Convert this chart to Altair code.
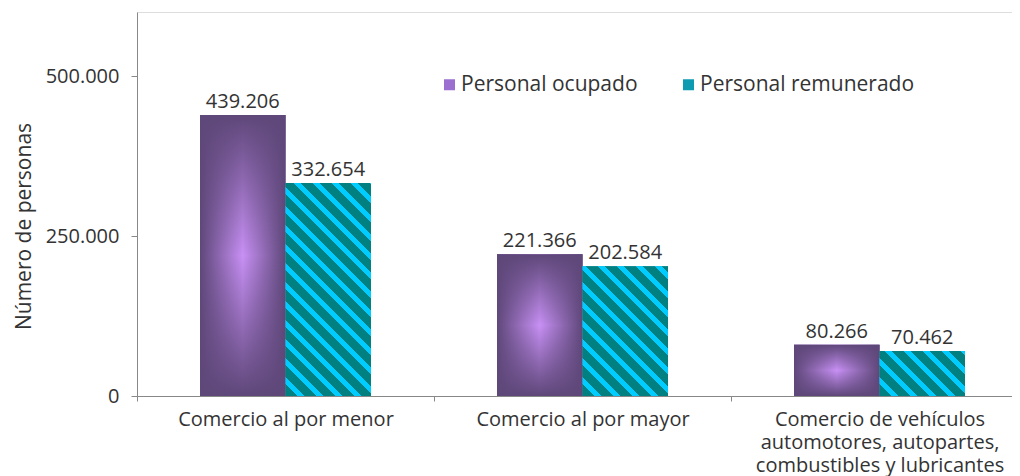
import altair as alt
import pandas as pd

# ---------------- data ----------------
categorias = [
    "Comercio al por menor",
    "Comercio al por mayor",
    "Comercio de vehículos\nautomotores, autopartes,\ncombustibles y lubricantes",
]
series = ["Personal ocupado", "Personal remunerado"]
ocupado = [439206, 221366, 80266]
remunerado = [332654, 202584, 70462]
y_ticks = [0, 250000, 500000]
y_max = 600000

rows = []
for c, a, b in zip(categorias, ocupado, remunerado):
    rows.append({"categoria": c, "serie": series[0], "valor": a})
    rows.append({"categoria": c, "serie": series[1], "valor": b})
df = pd.DataFrame(rows)

# ---------------- layout / style ----------------
PLOT_W, PLOT_H = 875, 384
BAND = 297
OFF_PAD = 0.737
BAR_W = BAND / (2 + 2 * OFF_PAD)
FONT = "Open Sans"
TXT = "#333333"

DARK = "#5E4779"
LIGHT = "#C890F5"
TEAL = "#008080"
CYAN = "#00CCFF"

purple_h = alt.LinearGradient(
    gradient="linear", x1=0, y1=0, x2=1, y2=0,
    stops=[alt.GradientStop(offset=0, color=DARK),
           alt.GradientStop(offset=0.5, color=LIGHT),
           alt.GradientStop(offset=1, color=DARK)])
purple_v = alt.LinearGradient(
    gradient="linear", x1=0, y1=0, x2=0, y2=1,
    stops=[alt.GradientStop(offset=0, color="rgba(94,71,121,1)"),
           alt.GradientStop(offset=0.5, color="rgba(94,71,121,0)"),
           alt.GradientStop(offset=1, color="rgba(94,71,121,1)")])


def stripe_gradient(w, h, period=19.0, frac=0.35):
    k = (w + h) * w / (w * w + h * h)
    p = period / (w + h)
    stops = []
    t = 0.0
    while t < 1:
        a = min(t + p * (1 - frac), 1)
        b = min(t + p, 1)
        stops.append((t, TEAL))
        stops.append((a, TEAL))
        if a < 1:
            stops.append((a, CYAN))
            stops.append((b, CYAN))
        t += p
    return alt.LinearGradient(
        gradient="linear", x1=0, y1=1, x2=k, y2=1 - k * h / w,
        stops=[alt.GradientStop(offset=round(o, 5), color=c) for o, c in stops])


x_enc = alt.X(
    "categoria:N", sort=categorias,
    scale=alt.Scale(domain=categorias, range=[0, 3 * BAND], paddingInner=0, paddingOuter=0),
    axis=alt.Axis(title=None, labelExpr="split(datum.label, '\\n')", tickBand="extent",
                  labelAngle=0, labelFont=FONT, labelFontSize=20, labelLineHeight=23,
                  labelPadding=8, tickSize=5, labelLimit=0, labelColor=TXT),
)
xo_enc = alt.XOffset("serie:N", sort=series,
                     scale=alt.Scale(domain=series, paddingOuter=OFF_PAD, paddingInner=0))
y_enc = alt.Y(
    "valor:Q",
    scale=alt.Scale(domain=[0, y_max], nice=False),
    axis=alt.Axis(values=y_ticks, format=",.0f", title="Número de personas",
                  titleFont=FONT, titleFontSize=21, titleFontWeight="normal",
                  titlePadding=11, titleY=214, titleColor=TXT,
                  labelFont=FONT, labelFontSize=20, labelPadding=12, labelColor=TXT,
                  tickSize=6, grid=False),
)

base = alt.Chart(df)

legend_bars = base.mark_bar().encode(
    x=x_enc, xOffset=xo_enc, y=y_enc,
    color=alt.Color(
        "serie:N", sort=series,
        scale=alt.Scale(domain=series, range=["#9A6FD0", "#0E9AB0"]),
        legend=alt.Legend(orient="none", legendX=302, legendY=62, direction="horizontal",
                          title=None, symbolType="square", symbolSize=121, padding=0,
                          symbolStrokeWidth=0, labelFontSize=21, labelFont=FONT,
                          labelColor=TXT, labelOffset=1, columnPadding=40, labelLimit=0),
    ),
)

occ = base.transform_filter(alt.FieldEqualPredicate(field="serie", equal=series[0]))
purple1 = occ.mark_bar(color=purple_h).encode(x=x_enc, xOffset=xo_enc, y=y_enc)
purple2 = occ.mark_bar(color=purple_v).encode(x=x_enc, xOffset=xo_enc, y=y_enc)

layers = [legend_bars, purple1, purple2]
for c, v in zip(categorias, remunerado):
    h = v / y_max * PLOT_H
    layers.append(
        base.transform_filter(alt.FieldEqualPredicate(field="serie", equal=series[1]))
        .transform_filter(alt.FieldEqualPredicate(field="categoria", equal=c))
        .mark_bar(color=stripe_gradient(BAR_W, h))
        .encode(x=x_enc, xOffset=xo_enc, y=y_enc)
    )

labels = base.mark_text(fontSize=20, font=FONT, color=TXT, baseline="alphabetic", dy=-7).encode(
    x=x_enc, xOffset=xo_enc, y=y_enc, text=alt.Text("valor:Q", format=",.0f"))
layers.append(labels)

chart = (
    alt.layer(*layers)
    .properties(width=PLOT_W, height=PLOT_H,
                autosize=alt.AutoSizeParams(type="none"),
                padding={"left": 129, "top": 4, "right": 0, "bottom": 80})
    .configure_view(stroke=None)
    .configure_axis(domainColor="#000000", tickColor="#000000", labelColor=TXT,
                    titleColor=TXT, labelFont=FONT, titleFont=FONT,
                    titleFontWeight="normal")
    .configure(locale={"number": {"decimal": ",", "thousands": ".",
                                  "grouping": [3], "currency": ["$", ""]}})
)

chart.save("out.html", embed_options={"renderer": "svg", "actions": False})
